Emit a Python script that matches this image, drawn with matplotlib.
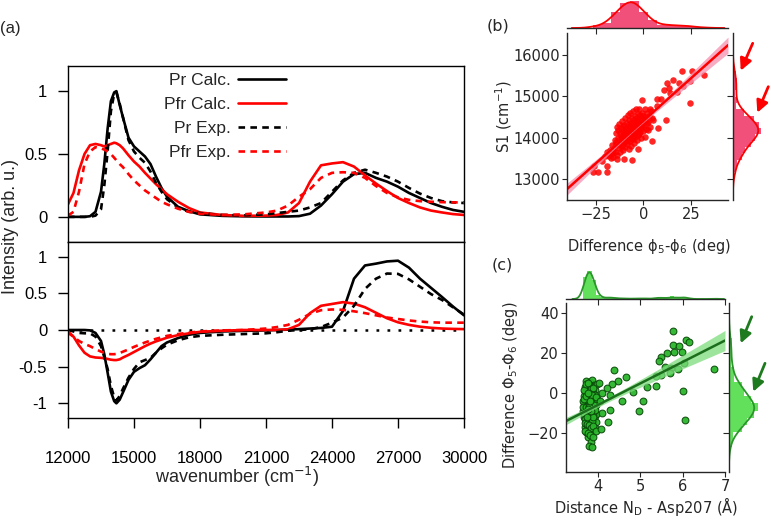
import numpy as np
import matplotlib
matplotlib.use("Agg")
import matplotlib.pyplot as plt
from matplotlib.patches import FancyArrowPatch
import seaborn as sns

sns.set_style("ticks")
plt.rcParams['font.family'] = ['DejaVu Sans']

# ---------------- panel (a): spectra ----------------
wn = [12000, 12250, 12500, 12750, 13000, 13250, 13500, 13650, 13800, 13950,
      14100, 14200, 14350, 14500, 14750, 15000, 15250, 15500, 15750, 16000,
      16250, 16500, 17000, 17500, 18000, 19000, 20000, 21000, 21500, 22000,
      22500, 23000, 23500, 24000, 24500, 25000, 25500, 26000, 26500, 27000,
      27500, 28000, 28500, 29000, 29500, 30000]

# absorption (top)
abs_pr_calc = [0, 0, 0, 0, 0.005, 0.04, 0.2, 0.42, 0.7, 0.92,
               0.99, 1.0, 0.89, 0.79, 0.63, 0.56, 0.52, 0.48, 0.42, 0.32,
               0.23, 0.16, 0.08, 0.045, 0.02, 0.008, 0.004, 0.003, 0.003, 0.003,
               0.006, 0.025, 0.09, 0.18, 0.28, 0.34, 0.35, 0.31, 0.28, 0.24,
               0.19, 0.15, 0.11, 0.08, 0.055, 0.04]
abs_pfr_calc = [0.1, 0.19, 0.37, 0.5, 0.57, 0.58, 0.57, 0.56, 0.57, 0.58,
                0.59, 0.585, 0.57, 0.545, 0.49, 0.44, 0.4, 0.35, 0.305, 0.26,
                0.22, 0.18, 0.12, 0.07, 0.035, 0.015, 0.008, 0.01, 0.015, 0.035,
                0.11, 0.28, 0.41, 0.425, 0.435, 0.4, 0.33, 0.265, 0.205, 0.15,
                0.11, 0.075, 0.05, 0.035, 0.022, 0.015]
abs_pr_exp = [0, 0, 0, 0, 0, 0.01, 0.06, 0.25, 0.52, 0.84,
              0.98, 0.99, 0.9, 0.79, 0.61, 0.52, 0.47, 0.43, 0.36, 0.27,
              0.2, 0.14, 0.075, 0.04, 0.03, 0.015, 0.012, 0.02, 0.03, 0.04,
              0.05, 0.075, 0.11, 0.2, 0.29, 0.35, 0.375, 0.35, 0.32, 0.28,
              0.23, 0.185, 0.15, 0.125, 0.115, 0.11]
abs_pfr_exp = [0.01, 0.04, 0.2, 0.42, 0.52, 0.555, 0.545, 0.535, 0.52, 0.5,
               0.47, 0.45, 0.42, 0.395, 0.34, 0.29, 0.25, 0.21, 0.18, 0.15,
               0.12, 0.1, 0.065, 0.04, 0.025, 0.015, 0.02, 0.035, 0.05, 0.09,
               0.16, 0.22, 0.31, 0.35, 0.355, 0.35, 0.31, 0.245, 0.19, 0.155,
               0.135, 0.125, 0.12, 0.117, 0.115, 0.115]

# difference (bottom)
dif_pr_calc = [0, 0, 0, 0, -0.005, -0.04, -0.15, -0.33, -0.58, -0.84,
               -0.97, -1.0, -0.95, -0.85, -0.68, -0.57, -0.52, -0.48, -0.4, -0.31,
               -0.22, -0.17, -0.11, -0.065, -0.04, -0.02, -0.012, -0.005, 0, 0.005,
               0.012, 0.02, 0.028, 0.045, 0.26, 0.7, 0.88, 0.905, 0.935, 0.945,
               0.85, 0.7, 0.575, 0.45, 0.32, 0.2]
dif_pfr_calc = [-0.04, -0.09, -0.21, -0.31, -0.36, -0.375, -0.38, -0.385, -0.395, -0.405,
                -0.41, -0.41, -0.4, -0.375, -0.34, -0.3, -0.26, -0.22, -0.185, -0.155,
                -0.13, -0.105, -0.07, -0.045, -0.025, -0.01, 0, 0, 0, 0.01,
                0.07, 0.23, 0.33, 0.355, 0.38, 0.36, 0.31, 0.235, 0.16, 0.105,
                0.07, 0.045, 0.03, 0.02, 0.015, 0.012]
dif_pr_exp = [0, -0.02, -0.04, -0.045, -0.045, -0.09, -0.22, -0.37, -0.53, -0.76,
              -0.92, -0.96, -0.9, -0.8, -0.65, -0.53, -0.44, -0.41, -0.38, -0.31,
              -0.25, -0.2, -0.14, -0.1, -0.08, -0.065, -0.055, -0.045, -0.03, -0.01,
              0, 0.01, 0.04, 0.1, 0.17, 0.33, 0.56, 0.7, 0.77, 0.765,
              0.69, 0.59, 0.49, 0.41, 0.31, 0.21]
dif_pfr_exp = [-0.02, -0.09, -0.15, -0.19, -0.22, -0.26, -0.295, -0.31, -0.325, -0.33,
               -0.33, -0.325, -0.315, -0.295, -0.265, -0.23, -0.2, -0.17, -0.145, -0.12,
               -0.1, -0.08, -0.055, -0.035, -0.02, -0.005, 0, 0.02, 0.04, 0.07,
               0.14, 0.22, 0.27, 0.28, 0.275, 0.255, 0.23, 0.2, 0.17, 0.15,
               0.13, 0.115, 0.105, 0.1, 0.1, 0.1]

# ---------------- panel (b): S1 vs dihedral difference ----------------
b_points = [
    # dense cluster
    (-18.2, 13560), (-17.5, 13700), (-16.8, 13620), (-16.4, 13820), (-15.9, 13540),
    (-15.6, 13760), (-15.1, 13950), (-14.8, 13660), (-14.5, 14100), (-14.2, 13850),
    (-13.9, 14250), (-13.7, 13580), (-13.4, 13990), (-13.1, 13760), (-12.9, 14320),
    (-12.6, 14120), (-12.4, 13900), (-12.2, 13650), (-11.9, 14050), (-11.7, 14230),
    (-11.5, 13800), (-11.2, 14400), (-11.0, 13980), (-10.8, 14150), (-10.6, 13700),
    (-10.3, 14300), (-10.1, 13890), (-9.9, 14060), (-9.7, 14480), (-9.5, 13780),
    (-9.3, 14200), (-9.1, 13960), (-8.9, 14350), (-8.7, 14100), (-8.5, 13850),
    (-8.3, 14550), (-8.1, 14010), (-7.9, 14260), (-7.7, 13720), (-7.5, 14420),
    (-7.3, 14130), (-7.1, 13920), (-6.9, 14600), (-6.7, 14300), (-6.5, 14050),
    (-6.3, 13800), (-6.1, 14480), (-5.9, 14190), (-5.7, 13990), (-5.5, 14650),
    (-5.3, 14360), (-5.1, 14100), (-4.9, 13880), (-4.7, 14530), (-4.5, 14250),
    (-4.3, 14020), (-4.1, 14680), (-3.9, 14400), (-3.6, 14150), (-3.3, 13950),
    (-3.0, 14580), (-2.7, 14320), (-2.4, 14080), (-2.1, 14700), (-1.8, 14450),
    (-1.5, 14220), (-1.2, 14000), (-0.9, 14600), (-0.6, 14360), (-0.3, 14150),
    (0.0, 14520), (0.4, 14280), (0.8, 14680), (1.2, 14430), (1.6, 14200),
    (2.0, 14600), (2.5, 14380), (3.0, 14520), (3.6, 14250), (4.2, 14650),
    (5.0, 14420), (-12.0, 14000), (-11.3, 13860), (-10.4, 14080), (-9.6, 14160),
    (-9.0, 14020), (-8.4, 14240), (-8.0, 13920), (-7.6, 14180), (-7.2, 14360),
    (-6.8, 14000), (-6.4, 14200), (-6.0, 14330), (-5.6, 14060), (-5.2, 14240),
    (-4.8, 14420), (-4.4, 14120), (-4.0, 14300), (-3.5, 14480), (-3.1, 14200),
    (-2.6, 14400), (-2.2, 14250), (-1.6, 14550), (-1.0, 14300), (-0.4, 14450),
    (0.6, 14500), (1.8, 14350), (-13.5, 14180), (-12.8, 13820), (-14.6, 13900),
    (-15.8, 13680), (-16.9, 13500), (-17.8, 13610), (-19.0, 13650), (-10.9, 14280),
    (-9.8, 13920), (-8.8, 14120), (-7.8, 14060), (-6.6, 14150), (-5.4, 13960),
    (-4.2, 14180), (-2.9, 14060), (-1.9, 14140),
    # spread points
    (31.7, 15520), (25.5, 15600), (20.2, 15600), (24.6, 15360), (21.1, 15240),
    (19.0, 15320), (24.3, 14840), (15.8, 15400), (12.3, 15320), (13.7, 15200),
    (9.2, 14940), (14.1, 15080), (10.6, 15160), (17.5, 15100), (7.0, 14930),
    (-0.5, 14900), (7.0, 14760), (12.0, 14420), (7.9, 14240), (4.4, 14480),
    (4.4, 13920), (3.5, 14700), (2.6, 14180), (0.9, 14020), (-2.6, 13720),
    (-5.8, 13460), (-10.2, 13490), (-14.1, 13480), (-19.4, 13160), (-23.8, 13160),
    (-26.8, 13160), (-26.0, 13320), (-19.4, 13320), (-22.0, 13430), (-20.0, 13560),
]
b_dphi = np.array([p[0] for p in b_points])
b_s1 = np.array([p[1] for p in b_points])

# ---------------- panel (c): dihedral difference vs N_D - Asp207 distance ----------------
c_points = [
    # cluster around 3.8 A
    (3.72, 6.0), (3.80, 5.5), (3.86, 6.5), (3.90, 4.0), (3.68, 3.0), (3.76, 2.5),
    (3.84, 3.5), (3.93, 1.5), (3.70, 0.5), (3.78, 1.0), (3.88, 0.0), (3.66, -1.5),
    (3.74, -1.0), (3.82, -2.0), (3.90, -2.5), (3.69, -3.5), (3.77, -3.0), (3.85, -4.0),
    (3.93, -4.5), (3.67, -5.0), (3.73, -5.5), (3.79, -4.8), (3.83, -6.0), (3.88, -5.2),
    (3.71, -6.5), (3.76, -7.0), (3.81, -7.5), (3.86, -6.8), (3.91, -7.2), (3.68, -8.0),
    (3.74, -8.5), (3.79, -9.0), (3.84, -8.2), (3.89, -9.5), (3.70, -10.0), (3.75, -10.5),
    (3.80, -11.0), (3.85, -10.2), (3.92, -11.5), (3.67, -12.0), (3.73, -12.5), (3.78, -13.0),
    (3.83, -12.2), (3.88, -13.5), (3.71, -14.5), (3.77, -15.0), (3.82, -14.0), (3.87, -16.0),
    (3.69, -17.0), (3.75, -17.5), (3.81, -16.5), (3.86, -18.5), (3.72, -19.5), (3.79, -19.0),
    (3.84, -20.5), (3.76, -22.0), (3.82, -24.5), (3.78, -26.5), (3.85, -27.0),
    (3.74, -2.2), (3.80, -6.2), (3.76, -5.8), (3.82, -9.8), (3.78, -7.8), (3.73, -9.2),
    (3.87, -8.0), (3.81, -3.2), (3.75, -11.8), (3.79, -12.8), (3.84, -5.5), (3.70, -7.6),
    (3.77, -9.6), (3.83, -11.2), (3.72, -4.2), (3.88, -2.8), (3.80, -14.8), (3.74, -16.2),
    (3.86, -12.6), (3.78, -1.8), (3.71, -11.0), (3.82, -6.6), (3.76, -13.8), (3.90, -9.0),
    (3.68, -6.2), (3.85, -15.2), (3.73, -0.2), (3.79, 3.8), (3.94, -6.0), (3.96, -10.5),
    (3.98, -3.0), (3.97, 4.5), (3.95, -14.5), (3.92, -17.5), (3.64, -9.0), (3.65, -4.0),
    (3.77, -5.2), (3.81, -8.8), (3.75, -3.8), (3.83, -7.0), (3.79, -10.4), (3.74, -6.8),
    (3.66, 1.5), (3.71, 4.5), (3.75, 5.2), (3.83, 1.8), (3.87, 2.4), (3.92, -0.8),
    (3.67, -2.8), (3.72, -1.6), (3.80, -0.6), (3.85, -1.2), (3.91, -3.8), (3.95, -1.8),
    (3.65, -6.8), (3.69, -9.8), (3.72, -7.2), (3.78, -5.8), (3.82, -4.4), (3.87, -10.8),
    (3.90, -5.8), (3.93, -8.6), (3.66, -10.6), (3.70, -12.8), (3.77, -11.4), (3.81, -12.6),
    (3.86, -14.2), (3.89, -11.8), (3.68, -14.8), (3.73, -15.6), (3.79, -16.2), (3.84, -17.4),
    (3.89, -16.6), (3.70, -18.8), (3.76, -19.8), (3.81, -21.2), (3.87, -21.8), (3.94, -19.2),
    (3.74, -12.0), (3.79, -7.0), (3.84, -9.0), (3.75, -8.0), (3.80, -3.8), (3.77, 0.2),
    # spread points
    (5.78, 31.2), (6.07, 26.7), (6.15, 25.3), (5.76, 24.2), (5.92, 23.7), (5.98, 20.3),
    (5.80, 20.3), (5.62, 20.0), (5.48, 17.8), (5.44, 15.8), (6.04, 15.0), (5.58, 12.8),
    (5.72, 12.5), (5.88, 12.0), (6.73, 12.0), (5.70, 10.0), (5.48, 9.2), (5.36, 8.3),
    (5.36, 3.7), (5.16, 2.8), (4.82, 0.3), (5.06, -4.2), (4.96, -9.2), (6.00, 0.8),
    (6.06, -13.3), (4.37, 11.7), (4.65, 7.8), (4.48, 6.2), (4.32, 4.7), (4.20, 2.5),
    (4.10, 0.0), (4.29, -0.8), (4.56, -4.2), (4.28, -8.3), (4.24, -14.5), (4.02, 5.0),
    (4.05, -4.0), (4.08, -10.0), (4.06, -18.0),
]
c_dist = np.array([p[0] for p in c_points])
c_dphi = np.array([p[1] for p in c_points])


def fit_band(x, y, xs):
    # ordinary least squares + 95% confidence band of the mean
    slope, icpt = np.polyfit(x, y, 1)
    n = len(x)
    res = y - (slope * x + icpt)
    s = np.sqrt(res @ res / (n - 2))
    sxx = ((x - x.mean()) ** 2).sum()
    se = s * np.sqrt(1.0 / n + (xs - x.mean()) ** 2 / sxx)
    return slope * xs + icpt, 1.97 * se


W, H = 771, 522
fig = plt.figure(figsize=(W / 100, H / 100), dpi=100)


def box(x0, y0, x1, y1):
    # pixel box (top-left origin) -> figure fraction rect
    return [x0 / W, 1 - y1 / H, (x1 - x0) / W, (y1 - y0) / H]


fa = 'Liberation Sans'
lw = 1.9
dash = (0, (2.5, 2.0))

ax1 = fig.add_axes(box(68, 66, 464, 242))
ax2 = fig.add_axes(box(68, 242, 464, 418))

ax1.plot(wn, abs_pr_calc, color='black', lw=lw, label='Pr Calc.')
ax1.plot(wn, abs_pfr_calc, color='red', lw=lw, label='Pfr Calc.')
ax1.plot(wn, abs_pr_exp, color='black', lw=lw, ls=dash, label='Pr Exp.')
ax1.plot(wn, abs_pfr_exp, color='red', lw=lw, ls=dash, label='Pfr Exp.')

ax2.axhline(0, color='black', lw=1.8, ls=(0, (1.1, 3.3)))
ax2.plot(wn, dif_pr_calc, color='black', lw=lw)
ax2.plot(wn, dif_pfr_calc, color='red', lw=lw)
ax2.plot(wn, dif_pr_exp, color='black', lw=lw, ls=dash)
ax2.plot(wn, dif_pfr_exp, color='red', lw=lw, ls=dash)

for ax in (ax1, ax2):
    ax.set_xlim(12000, 30000)
    for sp in ax.spines.values():
        sp.set_visible(True)
        sp.set_color('black')
        sp.set_linewidth(1.0)
    ax.tick_params(colors='black', direction='out', length=7, width=1.0)
    ax.tick_params(axis='y', pad=8)

ax1.set_ylim(-0.2, 1.2)
ax1.set_yticks([0, 0.5, 1])
ax1.set_yticklabels(['0', '0.5', '1'], fontfamily=fa, fontsize=12)
ax1.tick_params(axis='x', bottom=False, labelbottom=False)

ax2.set_ylim(-1.2, 1.2)
ax2.set_yticks([-1, -0.5, 0, 0.5, 1])
ax2.set_yticklabels(['-1', '-0.5', '0', '0.5', '1'], fontfamily=fa, fontsize=12)
xt = list(range(12000, 30001, 3000))
ax2.set_xticks(xt)
ax2.set_xticklabels([str(v) for v in xt], fontfamily=fa, fontsize=12)
ax2.tick_params(axis='x', pad=17)

ax1.legend(loc='upper right', bbox_to_anchor=(0.55, 0.96), markerfirst=False,
           frameon=False, handlelength=2.75, handletextpad=0.4, labelspacing=0.5,
           borderaxespad=0, borderpad=0, prop={'family': fa, 'size': 12.5})

fig.text(237 / W, 1 - 477 / H, 'wavenumber (cm$^{-1}$)', ha='center', va='center',
         fontfamily=fa, fontsize=13)
fig.text(11 / W, 1 - 227 / H, 'Intensity (arb. u.)', ha='center', va='center',
         rotation=90, fontfamily=fa, fontsize=13)
fig.text(10 / W, 1 - 28 / H, '(a)', ha='center', va='center', fontfamily=fa, fontsize=12)

# ---------------- joint plots ----------------
fs = 10.5
ink = '.15'


def joint(main_px, top_px, right_px, x, y, xlim, ylim, xt, yt,
          pt_kw, line_c, band_c, hist_c, kde_c, bw_x=1.0, bw_y=1.0, bins_x='auto', bins_y='auto'):
    axm = fig.add_axes(box(*main_px))
    axt = fig.add_axes(box(*top_px), sharex=axm)
    axr = fig.add_axes(box(*right_px), sharey=axm)
    for a in (axt, axr):
        a.set_facecolor('none')

    axm.scatter(x, y, **pt_kw)
    xs = np.linspace(xlim[0], xlim[1], 200)
    yfit, ci = fit_band(x, y, xs)
    axm.fill_between(xs, yfit - ci, yfit + ci, color=band_c, lw=0, alpha=0.75)
    axm.plot(xs, yfit, color=line_c, lw=1.8)

    sns.histplot(x=x, ax=axt, stat='density', color=hist_c, alpha=1.0,
                 linewidth=0, bins=bins_x)
    sns.kdeplot(x=x, ax=axt, color=kde_c, lw=1.3, bw_adjust=bw_x)
    sns.histplot(y=y, ax=axr, stat='density', color=hist_c, alpha=1.0,
                 linewidth=0, bins=bins_y)
    sns.kdeplot(y=y, ax=axr, color=kde_c, lw=1.3, bw_adjust=bw_y)

    axm.set_xlim(*xlim)
    axm.set_ylim(*ylim)
    axm.set_xticks(xt)
    axm.set_yticks(yt)
    # scale the marginals to their density curve
    axt.set_ylim(0, axt.lines[-1].get_ydata().max() * 1.05)
    axr.set_xlim(0, axr.lines[-1].get_xdata().max() * 1.15)
    sns.despine(ax=axm)
    sns.despine(ax=axt, left=True)
    sns.despine(ax=axr, bottom=True)
    axt.tick_params(axis='x', labelbottom=False, length=4, colors=ink)
    axt.tick_params(axis='y', left=False, labelleft=False)
    axr.tick_params(axis='y', labelleft=False, length=4, colors=ink)
    axr.tick_params(axis='x', bottom=False, labelbottom=False)
    axt.set_ylabel('')
    axr.set_xlabel('')
    axr.set_ylabel('')
    axm.tick_params(length=3.8, labelsize=fs, colors=ink, pad=1.5)
    for a in (axm, axt, axr):
        for sp in a.spines.values():
            sp.set_color(ink)
            sp.set_linewidth(1.0)
    return axm


axb = joint((567, 33, 728, 200), (567, 1, 728, 28), (733, 33, 762, 200),
            b_dphi, b_s1, (-40.3, 44.6), (12490, 16530), [-25, 0, 25],
            [13000, 14000, 15000, 16000],
            dict(s=22, color='red', alpha=0.85, linewidths=0),
            'red', '#f590b0', '#f0507a', 'red', bins_x=12, bins_y=16)
fig.text(504 / W, 1 - 116 / H, 'S1 (cm$^{-1}$)', rotation=90, ha='center',
         va='center', fontsize=fs, color=ink)
fig.text(649 / W, 1 - 247 / H, 'Difference ϕ$_5$-ϕ$_6$ (deg)', ha='center',
         va='center', fontsize=fs, color=ink)
fig.text(498 / W, 1 - 26 / H, '(b)', ha='center', va='center', fontsize=11.5, color=ink)

axc = joint((566, 303, 725, 472), (566, 271, 725, 299), (729, 303, 758, 472),
            c_dist, c_dphi, (3.24, 7.0), (-39.5, 45), [4, 5, 6, 7],
            [-20, 0, 20, 40],
            dict(s=24, color='#2bb52b', alpha=0.95, edgecolors='#0a4a0a', linewidths=0.75),
            '#1b6e1b', '#7ddc7d', '#62e05c', '#2a962a', bw_x=0.35, bins_x=30, bins_y=16)
fig.text(510 / W, 1 - 385 / H, 'Difference Φ$_5$-Φ$_6$ (deg)', rotation=90,
         ha='center', va='center', fontsize=fs, color=ink)
fig.text(646 / W, 1 - 506 / H, 'Distance N$_\\mathrm{D}$ - Asp207 (Å)', ha='center',
         va='center', fontsize=fs, color=ink)
fig.text(502 / W, 1 - 265 / H, '(c)', ha='center', va='center', fontsize=11.5, color=ink)

# arrows pointing at the marginal shoulders
arrows = [((752.7, 43.3), (740.7, 70.7), 'red'), ((768.3, 86.7), (757.3, 112.7), 'red'),
          ((751.7, 316.7), (740.7, 343.3), '#1e7a1e'), ((765.0, 363.3), (753.3, 391.7), '#1e7a1e')]
for (tx, ty), (hx, hy), col in arrows:
    fig.add_artist(FancyArrowPatch((tx / W, 1 - ty / H), (hx / W, 1 - hy / H),
                                   transform=fig.transFigure, color=col, lw=2.0,
                                   arrowstyle='-|>,head_length=0.7,head_width=0.35',
                                   mutation_scale=10, shrinkA=0, shrinkB=0, zorder=10))

fig.savefig('out.png', dpi=100)
